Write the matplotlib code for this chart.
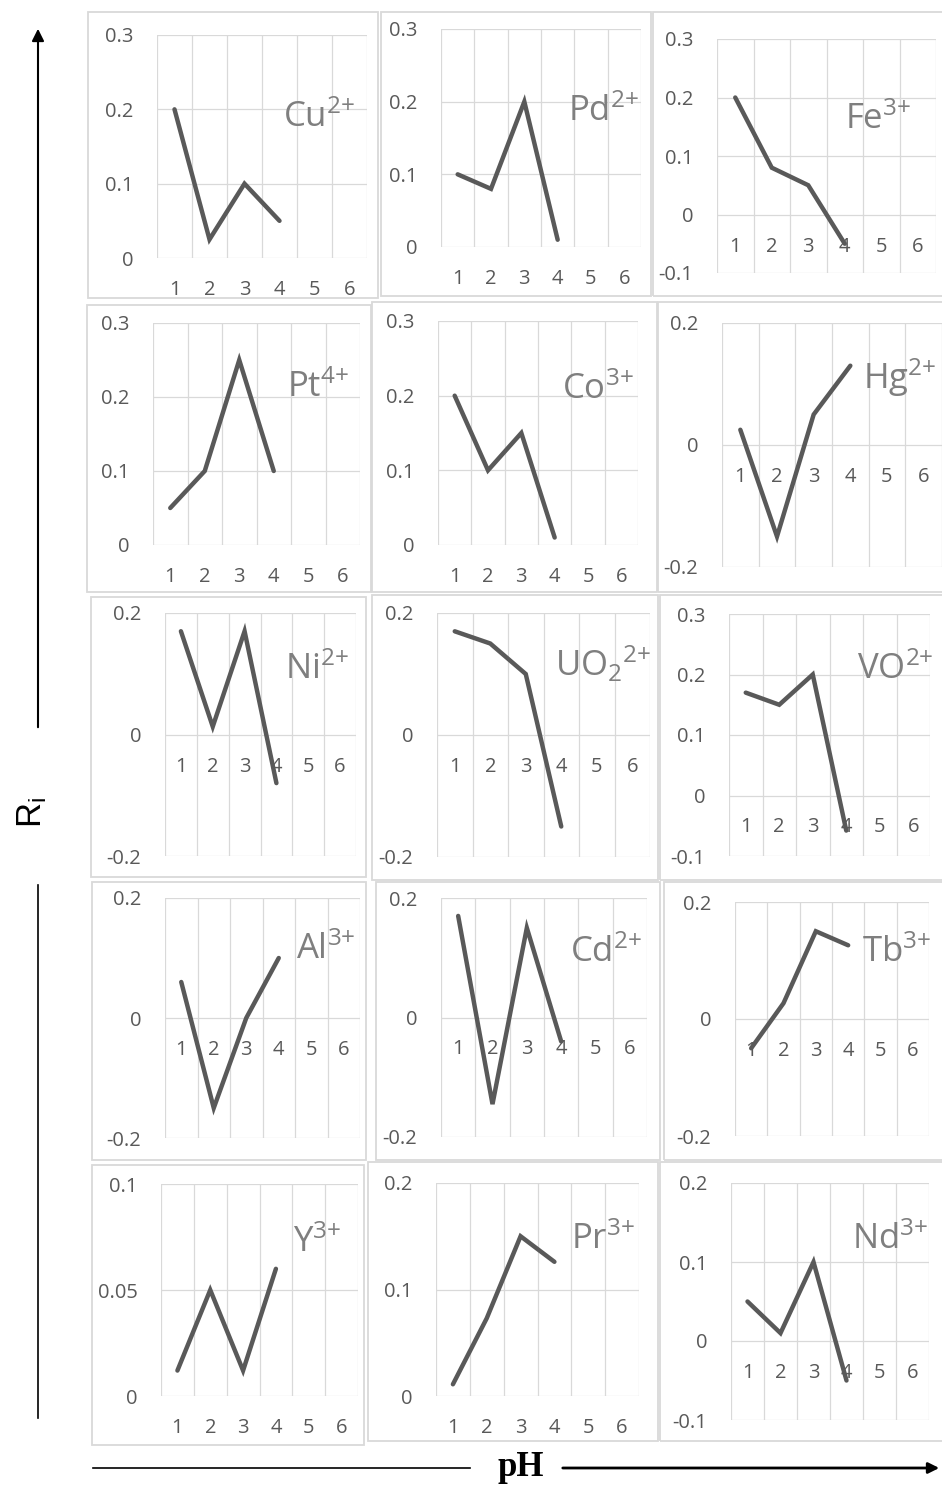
import matplotlib
matplotlib.use("Agg")
import matplotlib.pyplot as plt
import matplotlib.patches as patches
import matplotlib.transforms as mtransforms

# pH categories on every small chart (only 1-4 carry data)
ph_cats = ["1", "2", "3", "4", "5", "6"]
ph = [1, 2, 3, 4]

# R_i values
ri_cu = [0.20, 0.025, 0.10, 0.05]
ri_pd = [0.10, 0.08, 0.20, 0.01]
ri_fe = [0.20, 0.08, 0.05, -0.05]
ri_pt = [0.05, 0.10, 0.25, 0.10]
ri_co = [0.20, 0.10, 0.15, 0.01]
ri_hg = [0.025, -0.15, 0.05, 0.13]
ri_ni = [0.17, 0.013, 0.17, -0.08]
ri_uo2 = [0.17, 0.15, 0.10, -0.15]
ri_vo = [0.17, 0.15, 0.20, -0.058]
ri_al = [0.06, -0.15, 0.0, 0.10]
ri_cd = [0.17, -0.145, 0.15, -0.04]
ri_tb = [-0.05, 0.027, 0.15, 0.126]
ri_y = [0.012, 0.05, 0.012, 0.06]
ri_pr = [0.011, 0.073, 0.15, 0.126]
ri_nd = [0.05, 0.01, 0.10, -0.05]

ion_labels = [r"Cu$^{2{+}}$", r"Pd$^{2{+}}$", r"Fe$^{3{+}}$",
              r"Pt$^{4{+}}$", r"Co$^{3{+}}$", r"Hg$^{2{+}}$",
              r"Ni$^{2{+}}$", r"UO$_2$$^{2{+}}$", r"VO$^{2{+}}$",
              r"Al$^{3{+}}$", r"Cd$^{2{+}}$", r"Tb$^{3{+}}$",
              r"Y$^{3{+}}$", r"Pr$^{3{+}}$", r"Nd$^{3{+}}$"]
series = [ri_cu, ri_pd, ri_fe, ri_pt, ri_co, ri_hg, ri_ni, ri_uo2, ri_vo,
          ri_al, ri_cd, ri_tb, ri_y, ri_pr, ri_nd]

# y tick values per panel
yt_03 = [0, 0.1, 0.2, 0.3]
yt_m13 = [-0.1, 0, 0.1, 0.2, 0.3]
yt_m22 = [-0.2, 0, 0.2]
yt_y = [0, 0.05, 0.1]
yt_pr = [0, 0.1, 0.2]
yt_nd = [-0.1, 0, 0.1, 0.2]
yticks = [yt_03, yt_03, yt_m13, yt_03, yt_03, yt_m22, yt_m22, yt_m22, yt_m13,
          yt_m22, yt_m22, yt_m22, yt_y, yt_pr, yt_nd]

# layout in pixels (x0, y0, x1, y1), top-left origin
W, H = 942, 1485
frames = [(88, 12, 378, 298), (381, 12, 651, 296), (653, 12, 945, 296),
          (87, 305, 371, 592), (372, 302, 657, 592), (658, 302, 945, 592),
          (91, 597, 366, 877), (372, 595, 658, 880), (660, 595, 945, 880),
          (92, 882, 366, 1160), (376, 882, 660, 1160), (664, 882, 945, 1160),
          (92, 1165, 364, 1445), (368, 1162, 658, 1441), (660, 1162, 945, 1441)]
plots = [(157, 35, 367, 258), (441, 29, 641, 247), (717, 39, 936, 273),
         (153, 323, 360, 545), (438, 321, 638, 545), (722, 323, 942, 567),
         (165, 613, 356, 856), (437, 613, 650, 857), (729, 614, 930, 856),
         (165, 898, 360, 1138), (441, 898, 647, 1137), (735, 902, 929, 1136),
         (161, 1184, 358, 1396), (436, 1183, 639, 1396), (731, 1183, 929, 1420)]
label_pos = [(283, 127), (568, 121), (845, 129),
             (287, 397), (562, 399), (863, 389),
             (285, 679), (555, 676), (857, 679),
             (296, 959), (570, 962), (862, 962),
             (293, 1252), (571, 1249), (852, 1249)]

line_col = '#595959'
tick_col = '#595959'
grid_col = '#d9d9d9'
ion_col = '#7f7f7f'

plt.rcParams['font.family'] = ['Open Sans', 'DejaVu Sans']
plt.rcParams['mathtext.fontset'] = 'custom'
plt.rcParams['mathtext.rm'] = 'Open Sans'
plt.rcParams['mathtext.it'] = 'Open Sans'
plt.rcParams['mathtext.default'] = 'regular'


def to_fig(r):
    x0, y0, x1, y1 = r
    return [x0 / W, 1 - y1 / H, (x1 - x0) / W, (y1 - y0) / H]


fig = plt.figure(figsize=(W / 100, H / 100), dpi=100, facecolor='white')

for i in range(15):
    # panel frame
    fx, fy, fw, fh = to_fig(frames[i])
    fig.add_artist(patches.Rectangle((fx, fy), fw, fh, transform=fig.transFigure,
                                     fill=False, edgecolor=grid_col, linewidth=1.3))

    ax = fig.add_axes(to_fig(plots[i]))
    yt = yticks[i]
    ax.set_xlim(0.5, 6.5)
    ax.set_ylim(yt[0], yt[-1])
    for s in ax.spines.values():
        s.set_visible(False)
    # category gridlines + value gridlines
    for xb in [0.5 + k for k in range(7)]:
        ax.axvline(xb, color=grid_col, lw=0.9, zorder=0)
    for yv in yt:
        ax.axhline(yv, color=grid_col, lw=0.9, zorder=0)
    ax.set_xticks([])
    ax.set_yticks(yt)
    ax.set_yticklabels([f'{v:g}' for v in yt])
    ax.tick_params(axis='y', length=0, pad=17, labelsize=14.5, labelcolor=tick_col)

    ax.plot(ph, series[i], color=line_col, lw=3.2, solid_capstyle='round',
            solid_joinstyle='miter', zorder=3, clip_on=False)

    # category labels just under the zero line
    off = mtransforms.offset_copy(ax.transData, fig=fig, x=0, y=-32, units='dots')
    for k, c in enumerate(ph_cats):
        ax.text(k + 1, 0, c, transform=off, ha='center', va='center',
                fontsize=14.5, color=tick_col, clip_on=False, zorder=1)

    lx, ly = label_pos[i]
    fig.text(lx / W, 1 - ly / H, ion_labels[i], fontsize=25, color=ion_col,
             ha='left', va='baseline')

# left axis arrow with R_i label
fig.add_artist(plt.Line2D([38 / W, 38 / W], [1 - 1418 / H, 1 - 885 / H],
                          transform=fig.transFigure, color='black', lw=1.2))
fig.add_artist(patches.FancyArrowPatch((38 / W, 1 - 730 / H), (38 / W, 1 - 26 / H),
                                       transform=fig.transFigure, arrowstyle='-|>',
                                       mutation_scale=18, color='black', lw=1.5))
fig.text(32 / W, 1 - 812 / H, r'R$_i$', rotation=90, ha='center', va='center',
         fontsize=25, family=['Liberation Sans', 'DejaVu Sans'], color='black')

# bottom pH arrow
fig.add_artist(plt.Line2D([93 / W, 470 / W], [1 - 1468 / H, 1 - 1468 / H],
                          transform=fig.transFigure, color='black', lw=1.2))
fig.add_artist(patches.FancyArrowPatch((560 / W, 1 - 1468 / H), (942 / W, 1 - 1468 / H),
                                       transform=fig.transFigure, arrowstyle='-|>',
                                       mutation_scale=16, color='black', lw=2))
fig.text(521 / W, 1 - 1468 / H, 'pH', ha='center', va='center', fontsize=25,
         fontweight='bold', family=['Liberation Serif', 'DejaVu Serif'], color='black')

fig.savefig('out.png', dpi=100, facecolor='white')
